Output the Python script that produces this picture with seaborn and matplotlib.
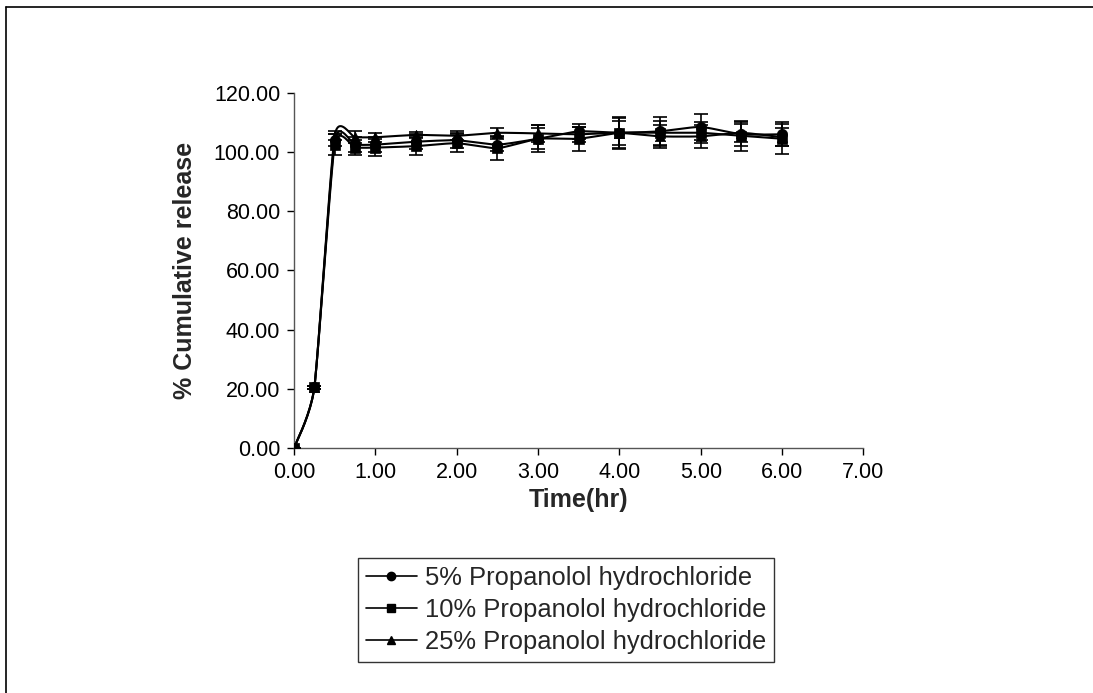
import numpy as np
import pandas as pd
import matplotlib
matplotlib.use("Agg")
import matplotlib.pyplot as plt
from matplotlib.lines import Line2D
import seaborn as sns

# Dissolution data: time points (hr) and % cumulative release (mean, SD)
time_hr = [0.0, 0.25, 0.5, 0.75, 1.0, 1.5, 2.0, 2.5, 3.0, 3.5, 4.0, 4.5, 5.0, 5.5, 6.0]

release_5 = [0.0, 20.5, 104.0, 102.5, 102.5, 103.5, 104.0, 102.5, 104.5, 107.0, 106.5, 107.0, 108.5, 106.0, 106.0]
release_10 = [0.0, 20.5, 102.5, 101.5, 101.5, 102.0, 103.0, 101.3, 104.5, 104.5, 106.5, 106.5, 106.5, 105.5, 104.5]
release_25 = [0.0, 20.5, 105.5, 105.0, 105.0, 105.8, 105.5, 106.5, 106.3, 106.0, 106.5, 105.3, 105.3, 106.5, 105.0]

sd_5 = [0.0, 0.5, 2.0, 2.5, 2.5, 2.5, 2.5, 2.0, 4.5, 2.5, 5.0, 5.0, 4.5, 4.0, 4.0]
sd_10 = [0.0, 0.5, 3.5, 2.5, 3.0, 3.0, 3.0, 4.0, 3.5, 4.0, 5.5, 4.0, 3.5, 5.0, 5.0]
sd_25 = [0.0, 0.5, 1.5, 2.0, 1.5, 1.0, 1.5, 1.5, 3.0, 2.5, 4.0, 4.0, 4.0, 3.0, 3.0]

series_names = ["5% Propanolol hydrochloride",
                "10% Propanolol hydrochloride",
                "25% Propanolol hydrochloride"]
series_markers = ["o", "s", "^"]

x_ticks = [0, 1, 2, 3, 4, 5, 6, 7]
y_ticks = [0, 20, 40, 60, 80, 100, 120]

sns.set_style("white")
plt.rcParams["font.family"] = ["Liberation Sans", "DejaVu Sans"]


def smooth_path(x, y, steps=20, tension=0.09):
    """Bezier-smoothed path through the data points (line rendering only)."""
    x = np.asarray(x, float)
    y = np.asarray(y, float)
    px = np.concatenate([[x[0]], x, [x[-1]]])
    py = np.concatenate([[y[0]], y, [y[-1]]])
    xs, ys = [], []
    for i in range(1, len(px) - 2):
        p0, p1, p2, p3 = (np.array([px[j], py[j]]) for j in (i - 1, i, i + 1, i + 2))
        c1 = p1 + (p2 - p0) * tension
        c2 = p2 - (p3 - p1) * tension
        t = np.linspace(0, 1, steps, endpoint=(i == len(px) - 3))
        pts = ((1 - t) ** 3)[:, None] * p1 + (3 * (1 - t) ** 2 * t)[:, None] * c1 \
            + (3 * (1 - t) * t ** 2)[:, None] * c2 + (t ** 3)[:, None] * p2
        xs.append(pts[:, 0])
        ys.append(pts[:, 1])
    return np.concatenate(xs), np.concatenate(ys)


fig = plt.figure(figsize=(10.93, 6.93), dpi=100)
ax = fig.add_axes([0.269, 0.3535, 0.521, 0.5125])

df = pd.DataFrame({
    "time": time_hr * 3,
    "release": release_5 + release_10 + release_25,
    "sd": sd_5 + sd_10 + sd_25,
    "series": sum([[n] * len(time_hr) for n in series_names], []),
})

for name, marker in zip(series_names, series_markers):
    sub = df[df["series"] == name]
    sx, sy = smooth_path(sub["time"], sub["release"])
    ax.plot(sx, sy, color="black", lw=1.5, zorder=2)
    ax.errorbar(sub["time"], sub["release"], yerr=sub["sd"], fmt="none",
                ecolor="black", elinewidth=1.2, capsize=5, capthick=1.2, zorder=3)
    sns.scatterplot(data=sub, x="time", y="release", marker=marker, s=55,
                    color="black", edgecolor="black", linewidth=0.5, ax=ax,
                    zorder=4, legend=False)

ax.set_xlim(0, 7)
ax.set_ylim(0, 120)
ax.set_xticks(x_ticks)
ax.set_yticks(y_ticks)
ax.set_xticklabels([f"{v:.2f}" for v in x_ticks], fontsize=15.5)
ax.set_yticklabels([f"{v:.2f}" for v in y_ticks], fontsize=15.5)
ax.tick_params(axis="both", direction="out", length=5, width=1, colors="black",
               bottom=True, left=True, pad=5)
for side in ["top", "right"]:
    ax.spines[side].set_visible(False)
for side in ["left", "bottom"]:
    ax.spines[side].set_color("#555555")
    ax.spines[side].set_linewidth(1)

ax.set_xlabel("Time(hr)", fontsize=18, fontweight="bold", labelpad=4)
ax.set_ylabel("% Cumulative release", fontsize=18, fontweight="bold", labelpad=12)

handles = [Line2D([0], [0], color="black", lw=1.2, marker=m, markersize=6)
           for m in series_markers]
leg = fig.legend(handles, series_names, loc="center",
                 bbox_to_anchor=(566 / 1093, 1 - 610 / 693), fontsize=18.4,
                 frameon=True, fancybox=False, edgecolor="black",
                 handlelength=2.0, handletextpad=0.3, borderpad=0.3,
                 labelspacing=0.32, borderaxespad=0)
leg.get_frame().set_linewidth(1)

# Outer chart frame (top and left edges)
fig.add_artist(Line2D([6 / 1093, 1.0], [1 - 7 / 693, 1 - 7 / 693],
                      transform=fig.transFigure, color="black", lw=1.2))
fig.add_artist(Line2D([6 / 1093, 6 / 1093], [0.0, 1 - 7 / 693],
                      transform=fig.transFigure, color="black", lw=1.2))

fig.savefig("out.png", dpi=100, facecolor="white")
